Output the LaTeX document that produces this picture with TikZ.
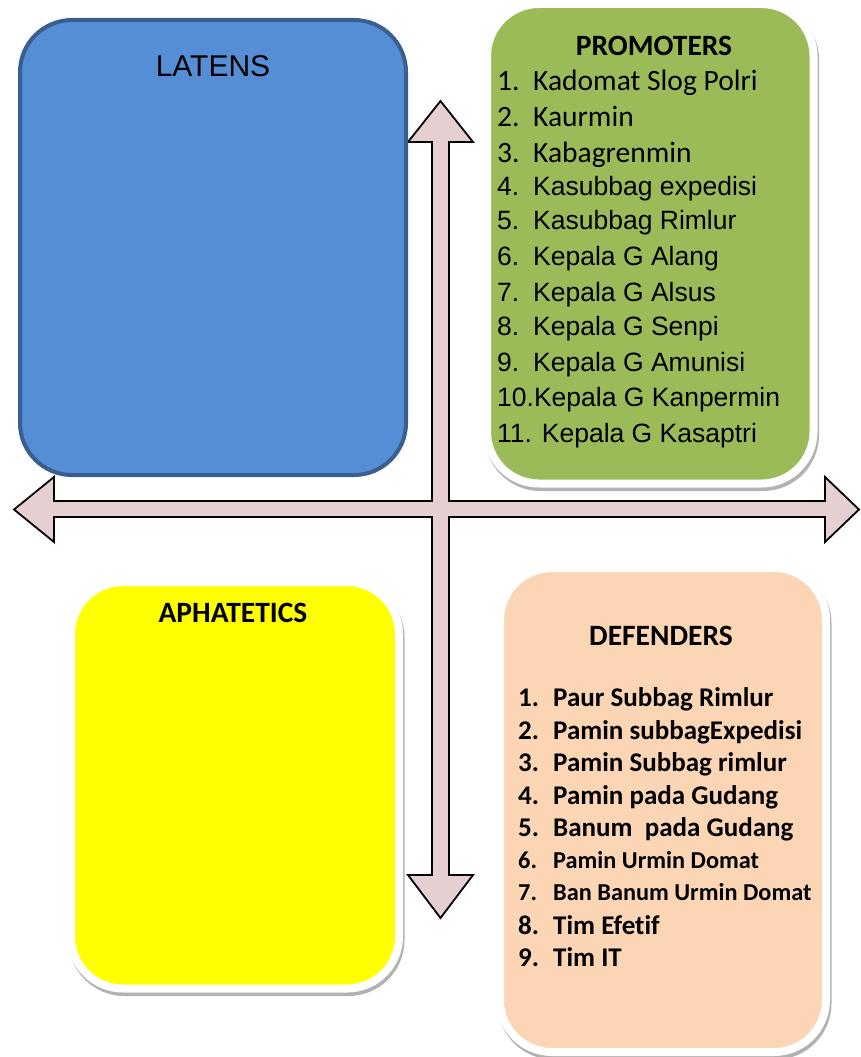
\documentclass[tikz,border=0pt]{standalone}
\usepackage{fontspec}
\setmainfont{Liberation Sans}
\newfontfamily\calib[Ligatures=NoCommon]{Carlito}
\usetikzlibrary{positioning}
\definecolor{latblue}{HTML}{558ED5}
\definecolor{latedge}{HTML}{3A5F8E}
\definecolor{promgreen}{HTML}{9BBB59}
\definecolor{aphyellow}{HTML}{FFFF00}
\definecolor{defpeach}{HTML}{FCD5B5}
\definecolor{crosspink}{HTML}{E6CFD0}

\begin{document}
\begin{tikzpicture}[
        x=1pt, y=-1pt,
        % Gaya kotak kuadran
        quad/.style={rectangle, rounded corners=52pt, inner sep=0pt},
        soft/.style={draw=white, line width=8pt,
                     preaction={draw=gray!60, fill=gray!60, line width=8pt,
                                transform canvas={shift={(1.5pt,-3.5pt)}}}},
        % Gaya teks
        head/.style={font=\calib\bfseries\fontsize{29.5}{34}\selectfont},
        arl/.style={anchor=base west, inner sep=0pt, font=\fontsize{26.5}{31}\selectfont},
        cal/.style={anchor=base west, inner sep=0pt, font=\calib\fontsize{29.5}{34}\selectfont},
        dfi/.style={anchor=base west, inner sep=0pt, font=\calib\bfseries\fontsize{27}{32}\selectfont},
        dfs/.style={anchor=base west, inner sep=0pt, font=\calib\bfseries\fontsize{24.3}{29}\selectfont},
    ]
    \useasboundingbox[fill=white] (0,0) rectangle (860,1057);

    %% -- Panah silang --
    \draw[fill=crosspink, line width=1.8pt, line join=miter]
        (440.5,101) -- (473,142) -- (449,142) -- (449,501) -- (825,501) -- (825,477)
        -- (859,509.5) -- (825,542) -- (825,517) -- (449,517) -- (449,875) -- (473,875)
        -- (440.5,918) -- (408,875) -- (432,875) -- (432,517) -- (54,517) -- (54,542)
        -- (14,509.5) -- (54,477) -- (54,501) -- (432,501) -- (432,142) -- (408,142) -- cycle;

    %% -- Kotak kuadran --
    \node[quad, draw=latedge, line width=4pt, fill=latblue,
          minimum width=386pt, minimum height=455pt] (lat) at (213,247.5) {};
    \node[quad, soft, fill=promgreen,
          minimum width=326.5pt, minimum height=479.5pt] (prom) at (650.25,243.75) {};
    \node[quad, soft, fill=aphyellow,
          minimum width=328pt, minimum height=406.5pt] (aph) at (235,785.25) {};
    \node[quad, soft, fill=defpeach,
          minimum width=326pt, minimum height=484pt] (def) at (663,810) {};

    %% -- Judul --
    \node[font=\fontsize{30}{35}\selectfont] (latt) at (213,66) {LATENS};
    \node[head] (promt) at (654,46) {PROMOTERS};
    \node[head] (apht)  at (233,613) {APHATETICS};
    \node[head] (deft)  at (661,636) {DEFENDERS};

    %% -- Daftar promoters --
    \node[cal] (p1n) at (497,90)  {1.};
    \node[cal] (p1)  at (533,90)  {Kadomat Slog Polri};
    \node[cal] (p2n) at (497,126) {2.};
    \node[cal] (p2)  at (533,126) {Kaurmin};
    \node[cal] (p3n) at (497,162) {3.};
    \node[cal] (p3)  at (533,162) {Kabagrenmin};
    \node[arl] (p4n) at (497,195) {4.};
    \node[arl] (p4)  at (533,195) {Kasubbag expedisi};
    \node[arl] (p5n) at (497,229) {5.};
    \node[arl] (p5)  at (533,229) {Kasubbag Rimlur};
    \node[arl] (p6n) at (497,265) {6.};
    \node[arl] (p6)  at (533,265) {Kepala G Alang};
    \node[arl] (p7n) at (497,301) {7.};
    \node[arl] (p7)  at (533,301) {Kepala G Alsus};
    \node[arl] (p8n) at (497,335) {8.};
    \node[arl] (p8)  at (533,335) {Kepala G Senpi};
    \node[arl] (p9n) at (497,371) {9.};
    \node[arl] (p9)  at (533,371) {Kepala G Amunisi};
    \node[arl] (p10) at (497,406) {10.Kepala G Kanpermin};
    \node[arl] (p11) at (497,442) {11. Kepala G Kasaptri};

    %% -- Daftar defenders --
    \node[dfi] (d1n) at (518,706) {1.};
    \node[dfi] (d1)  at (553,706) {Paur Subbag Rimlur};
    \node[dfi] (d2n) at (518,739) {2.};
    \node[dfi] (d2)  at (553,739) {Pamin subbagExpedisi};
    \node[dfi] (d3n) at (518,771) {3.};
    \node[dfi] (d3)  at (553,771) {Pamin Subbag rimlur};
    \node[dfi] (d4n) at (518,804) {4.};
    \node[dfi] (d4)  at (553,804) {Pamin pada Gudang};
    \node[dfi] (d5n) at (518,836) {5.};
    \node[dfi] (d5)  at (553,836) {Banum\ \ pada Gudang};
    \node[dfs] (d6n) at (518,868) {6.};
    \node[dfs] (d6)  at (553,868) {Pamin Urmin Domat};
    \node[dfs] (d7n) at (518,900) {7.};
    \node[dfs] (d7)  at (553,900) {Ban Banum Urmin Domat};
    \node[dfi] (d8n) at (518,934) {8.};
    \node[dfi] (d8)  at (553,934) {Tim Efetif};
    \node[dfi] (d9n) at (518,966) {9.};
    \node[dfi] (d9)  at (553,966) {Tim IT};

\end{tikzpicture}
\end{document}
